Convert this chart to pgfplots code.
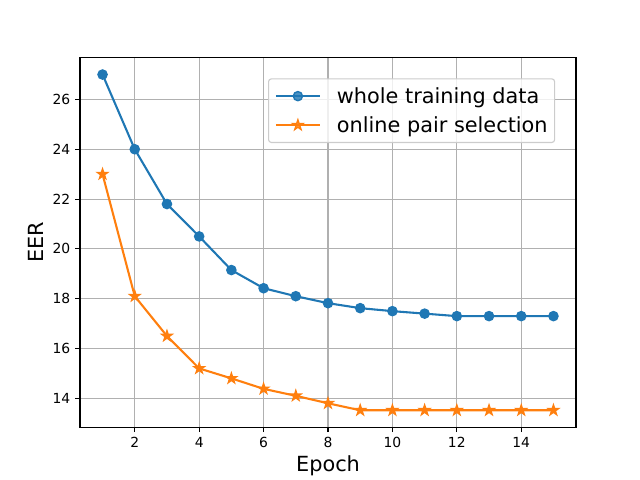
\documentclass[border=0pt]{standalone}
\usepackage{fontspec}
\setmainfont{DejaVu Sans}
\usepackage{pgfplots}
\pgfplotsset{compat=1.18}

\definecolor{tabblue}{HTML}{1F77B4}
\definecolor{taborange}{HTML}{FF7F0E}
\definecolor{gridgray}{HTML}{B0B0B0}
\definecolor{legedge}{HTML}{CCCCCC}

% filled five-pointed star
\pgfdeclareplotmark{fstar}{%
  \pgfpathmoveto{\pgfpointpolar{90}{\pgfplotmarksize}}%
  \pgfpathlineto{\pgfpointpolar{126}{0.382\pgfplotmarksize}}%
  \pgfpathlineto{\pgfpointpolar{162}{\pgfplotmarksize}}%
  \pgfpathlineto{\pgfpointpolar{198}{0.382\pgfplotmarksize}}%
  \pgfpathlineto{\pgfpointpolar{234}{\pgfplotmarksize}}%
  \pgfpathlineto{\pgfpointpolar{270}{0.382\pgfplotmarksize}}%
  \pgfpathlineto{\pgfpointpolar{306}{\pgfplotmarksize}}%
  \pgfpathlineto{\pgfpointpolar{342}{0.382\pgfplotmarksize}}%
  \pgfpathlineto{\pgfpointpolar{18}{\pgfplotmarksize}}%
  \pgfpathlineto{\pgfpointpolar{54}{0.382\pgfplotmarksize}}%
  \pgfpathclose
  \pgfusepathqfillstroke}

\begin{document}
\begin{tikzpicture}
\useasboundingbox (0,0) rectangle (460.8pt,345.6pt);
\begin{axis}[
  at={(57.6pt,38.016pt)}, anchor=south west,
  scale only axis, width=357.12pt, height=266.11pt,
  xmin=0.3, xmax=15.7, ymin=12.84, ymax=27.68,
  xtick={2,4,...,14}, ytick={14,16,...,26},
  /pgf/number format/assume math mode=true,
  tick label style={font=\fontsize{10}{12}\selectfont},
  tick align=outside, major tick length=3.5pt,
  tick style={black, line width=0.8pt},
  axis line style={line width=0.8pt},
  xtick pos=bottom, ytick pos=left,
  grid=major, major grid style={gridgray, line width=0.8pt},
  xlabel={Epoch}, ylabel={EER},
  label style={font=\fontsize{15}{18}\selectfont},
  xlabel style={yshift=1pt},
  legend style={at={(0.958,0.944)}, anchor=north east,
    font=\fontsize{15}{18}\selectfont, draw=legedge, fill=white, fill opacity=0.8,
    text opacity=1, rounded corners=2pt, line width=0.8pt,
    row sep=4pt, inner xsep=3pt, inner ysep=4pt},
  legend cell align=left,
  legend image code/.code={%
    \path (-0.05cm,0) (1.45cm,0);
    \draw[mark repeat=2, mark phase=2] plot coordinates {(0cm,0cm) (0.56cm,0cm) (1.12cm,0cm)};},
]
\addplot[tabblue, line width=1.5pt, mark=*, mark size=3.3pt,
  mark options={solid, fill=tabblue, line width=1pt}]
  coordinates {(1,27) (2,24) (3,21.8) (4,20.5) (5,19.15) (6,18.42) (7,18.1) (8,17.82)
    (9,17.62) (10,17.5) (11,17.4) (12,17.3) (13,17.3) (14,17.3) (15,17.3)};
\addlegendentry{whole training data}
\addplot[taborange, line width=1.5pt, mark=fstar, mark size=3.8pt,
  mark options={solid, fill=taborange, line width=1pt}]
  coordinates {(1,23) (2,18.1) (3,16.5) (4,15.2) (5,14.8) (6,14.38) (7,14.1) (8,13.8)
    (9,13.52) (10,13.52) (11,13.52) (12,13.52) (13,13.52) (14,13.52) (15,13.52)};
\addlegendentry{online pair selection}
\end{axis}
\end{tikzpicture}
\end{document}
